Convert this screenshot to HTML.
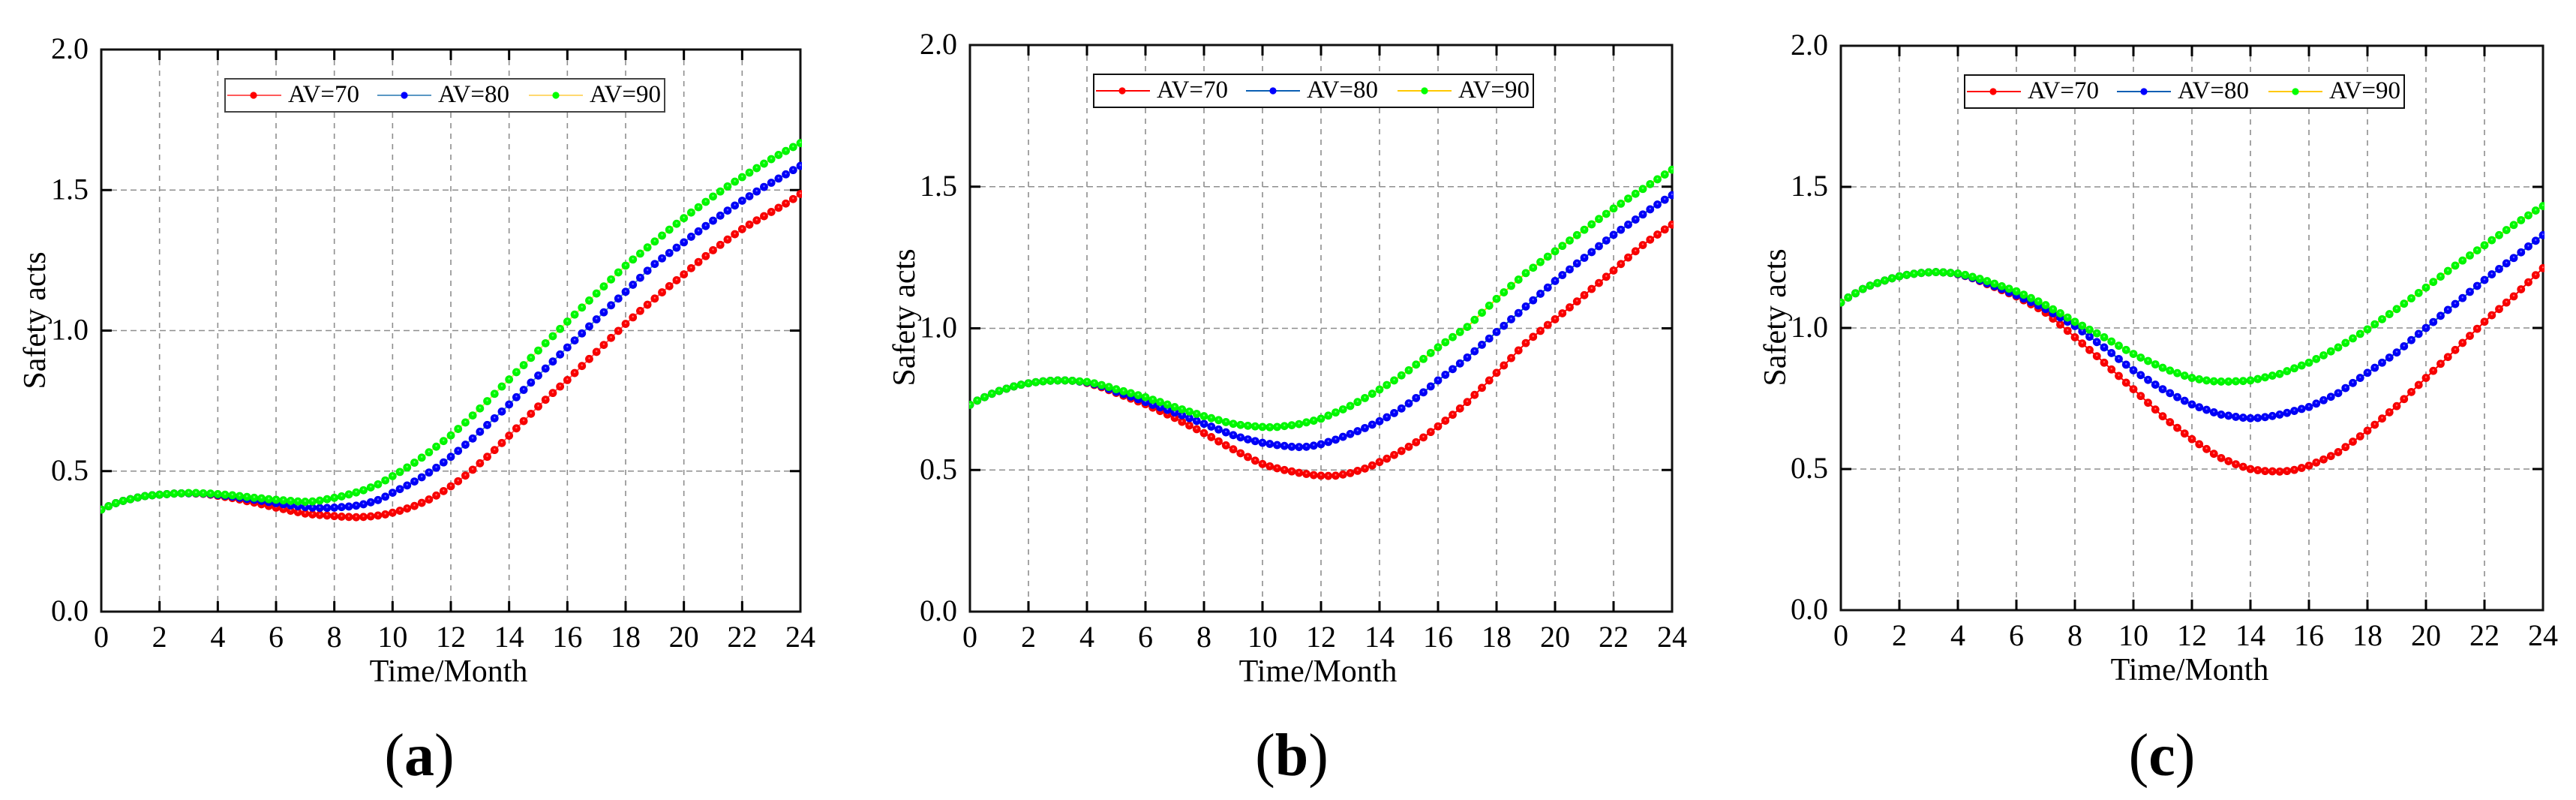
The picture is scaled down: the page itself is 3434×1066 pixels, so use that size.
<!DOCTYPE html>
<html lang="en">
<head>
<meta charset="utf-8">
<title>Safety acts over time for AV=70, 80 and 90</title>
<style>
html,body{margin:0;padding:0;background:#fff;}
svg{display:block;font-family:"Liberation Serif",serif;}
.tick-label{font-size:40px;fill:#000;}
.axis-title{font-size:42px;fill:#000;}
.legend-text{font-size:33px;fill:#000;}
.sub-label{font-size:80px;fill:#000;}
.sub-label .letter{font-weight:bold;}
</style>
</head>
<body>
<svg id="figure" xmlns="http://www.w3.org/2000/svg" width="3434" height="1066" viewBox="0 0 3434 1066">
  <defs>
    <radialGradient id="ball-red" cx="0.5" cy="0.5" r="0.5" fx="0.5" fy="0.38"><stop offset="0" stop-color="#ffb0b0"/><stop offset="0.3" stop-color="#ff0000"/><stop offset="1" stop-color="#f00000"/></radialGradient>
    <radialGradient id="ball-blue" cx="0.5" cy="0.5" r="0.5" fx="0.5" fy="0.38"><stop offset="0" stop-color="#b0b0ff"/><stop offset="0.3" stop-color="#0000ff"/><stop offset="1" stop-color="#0000ee"/></radialGradient>
    <radialGradient id="ball-green" cx="0.5" cy="0.5" r="0.5" fx="0.5" fy="0.38"><stop offset="0" stop-color="#b0ffb0"/><stop offset="0.3" stop-color="#00ff00"/><stop offset="1" stop-color="#00ee00"/></radialGradient>
  </defs>
  <rect x="0" y="0" width="3434" height="1066" fill="#fff"/>

  <!-- Panel a -->
  <g>
    <g id="plot-a"></g>
    <text class="axis-title" x="598" y="908" text-anchor="middle">Time/Month</text>
    <text class="axis-title" transform="translate(60,427) rotate(-90)" text-anchor="middle">Safety acts</text>
    <g transform="translate(135,66)">
      <rect x="165" y="39" width="586" height="44" fill="#fff" stroke="#444" stroke-width="2"/>
      <g>
        <line x1="168" y1="61" x2="240" y2="61" stroke="#ff5a5a" stroke-width="2"/>
        <circle cx="203" cy="61" r="4.6" fill="#f00"/>
        <text class="legend-text" x="249" y="70">AV=70</text>
      </g>
      <g>
        <line x1="368" y1="61" x2="440" y2="61" stroke="#5a98c4" stroke-width="2"/>
        <circle cx="404" cy="61" r="4.6" fill="#00f"/>
        <text class="legend-text" x="449" y="70">AV=80</text>
      </g>
      <g>
        <line x1="570" y1="61" x2="642" y2="61" stroke="#ffd970" stroke-width="2"/>
        <circle cx="606" cy="61" r="4.6" fill="#0f0"/>
        <text class="legend-text" x="651" y="70">AV=90</text>
      </g>
    </g>
    <text class="sub-label" x="559" y="1033" text-anchor="middle">(<tspan class="letter">a</tspan>)</text>
  </g>

  <!-- Panel b -->
  <g>
    <g id="plot-b"></g>
    <text class="axis-title" x="1757" y="908" text-anchor="middle">Time/Month</text>
    <text class="axis-title" transform="translate(1219,423) rotate(-90)" text-anchor="middle">Safety acts</text>
    <g transform="translate(1293,60)">
      <rect x="165" y="39" width="586" height="44" fill="#fff" stroke="#111" stroke-width="2"/>
      <g>
        <line x1="168" y1="61" x2="240" y2="61" stroke="#f00" stroke-width="2"/>
        <circle cx="203" cy="61" r="4.6" fill="#f00"/>
        <text class="legend-text" x="249" y="70">AV=70</text>
      </g>
      <g>
        <line x1="368" y1="61" x2="440" y2="61" stroke="#0a5fb4" stroke-width="2"/>
        <circle cx="404" cy="61" r="4.6" fill="#00f"/>
        <text class="legend-text" x="449" y="70">AV=80</text>
      </g>
      <g>
        <line x1="570" y1="61" x2="642" y2="61" stroke="#ffc800" stroke-width="2"/>
        <circle cx="606" cy="61" r="4.6" fill="#0f0"/>
        <text class="legend-text" x="651" y="70">AV=90</text>
      </g>
    </g>
    <text class="sub-label" x="1722" y="1033" text-anchor="middle">(<tspan class="letter">b</tspan>)</text>
  </g>

  <!-- Panel c -->
  <g>
    <g id="plot-c"></g>
    <text class="axis-title" x="2919" y="906" text-anchor="middle">Time/Month</text>
    <text class="axis-title" transform="translate(2380,423) rotate(-90)" text-anchor="middle">Safety acts</text>
    <g transform="translate(2454,61)">
      <rect x="165" y="39" width="586" height="44" fill="#fff" stroke="#111" stroke-width="2"/>
      <g>
        <line x1="168" y1="61" x2="240" y2="61" stroke="#f00" stroke-width="2"/>
        <circle cx="203" cy="61" r="4.6" fill="#f00"/>
        <text class="legend-text" x="249" y="70">AV=70</text>
      </g>
      <g>
        <line x1="368" y1="61" x2="440" y2="61" stroke="#0a5fb4" stroke-width="2"/>
        <circle cx="404" cy="61" r="4.6" fill="#00f"/>
        <text class="legend-text" x="449" y="70">AV=80</text>
      </g>
      <g>
        <line x1="570" y1="61" x2="642" y2="61" stroke="#ffc800" stroke-width="2"/>
        <circle cx="606" cy="61" r="4.6" fill="#0f0"/>
        <text class="legend-text" x="651" y="70">AV=90</text>
      </g>
    </g>
    <text class="sub-label" x="2882" y="1033" text-anchor="middle">(<tspan class="letter">c</tspan>)</text>
  </g>
</svg>

<script>
// Axis labels
const xTickLabels = ['0','2','4','6','8','10','12','14','16','18','20','22','24'];
const yTickLabels = ['0.0','0.5','1.0','1.5','2.0'];
const sampleStepMonths = 0.25;

// Panel (a): values every 0.25 month, month 0 to 24
const panelA_av70 = [
.363,.375,.386,.394,.400,.406,.411,.414,.416,.418,.420,.421,.421,.420,.419,.416,
.412,.408,.404,.399,.393,.388,.382,.376,.370,.365,.359,.354,.349,.346,.344,.342,
.340,.338,.337,.336,.337,.339,.342,.346,.352,.359,.367,.376,.387,.399,.413,.429,
.446,.464,.484,.505,.528,.551,.575,.600,.626,.652,.678,.704,.730,.754,.778,.801,
.824,.849,.874,.899,.924,.949,.974,.999,1.024,1.047,1.070,1.092,1.114,1.136,1.158,1.179,
1.200,1.222,1.244,1.265,1.286,1.305,1.324,1.343,1.361,1.377,1.392,1.407,1.422,1.437,1.452,1.468,
1.486];
const panelA_av80 = [
.363,.375,.386,.394,.400,.406,.411,.414,.416,.418,.420,.421,.421,.421,.420,.418,
.415,.412,.409,.405,.401,.398,.394,.390,.386,.382,.378,.375,.372,.370,.369,.369,
.370,.372,.374,.377,.382,.389,.397,.409,.423,.436,.449,.463,.478,.495,.512,.531,
.551,.572,.594,.616,.640,.664,.688,.712,.737,.763,.789,.815,.840,.865,.890,.915,
.940,.965,.990,1.015,1.040,1.065,1.090,1.114,1.138,1.163,1.188,1.213,1.237,1.257,1.276,1.295,
1.314,1.334,1.353,1.372,1.391,1.409,1.427,1.445,1.462,1.478,1.495,1.511,1.526,1.541,1.556,1.571,
1.586];
const panelA_av90 = [
.363,.375,.386,.394,.400,.406,.411,.414,.416,.418,.420,.421,.422,.422,.421,.420,
.418,.416,.414,.411,.408,.405,.403,.400,.398,.396,.394,.392,.391,.392,.395,.400,
.405,.410,.417,.424,.432,.442,.453,.467,.482,.497,.513,.530,.548,.567,.587,.607,
.627,.650,.673,.698,.723,.749,.775,.801,.826,.852,.877,.903,.929,.955,.980,1.006,
1.032,1.057,1.082,1.107,1.132,1.157,1.182,1.207,1.231,1.253,1.274,1.296,1.317,1.338,1.359,1.380,
1.400,1.420,1.439,1.458,1.477,1.495,1.513,1.530,1.546,1.562,1.578,1.594,1.610,1.625,1.639,1.653,
1.667];

// Panel (b)
const panelB_av70 = [
.730,.745,.757,.769,.779,.787,.795,.801,.806,.810,.813,.815,.816,.816,.815,.812,
.807,.800,.792,.782,.772,.762,.752,.742,.732,.720,.708,.696,.684,.670,.657,.644,
.630,.616,.601,.587,.573,.559,.546,.533,.521,.513,.506,.500,.495,.490,.486,.482,
.480,.479,.480,.484,.489,.497,.505,.516,.528,.540,.553,.567,.582,.598,.615,.634,
.654,.674,.695,.717,.740,.765,.790,.816,.843,.869,.895,.922,.948,.970,.991,1.012,
1.032,1.053,1.074,1.095,1.117,1.139,1.160,1.182,1.204,1.227,1.250,1.272,1.294,1.313,1.331,1.349,
1.366];
const panelB_av80 = [
.730,.745,.757,.769,.779,.787,.795,.801,.806,.810,.813,.815,.816,.816,.815,.812,
.809,.803,.796,.786,.776,.768,.759,.750,.740,.730,.721,.712,.703,.693,.683,.673,
.663,.653,.643,.633,.623,.615,.608,.602,.596,.592,.588,.585,.582,.581,.582,.586,
.591,.599,.607,.617,.627,.637,.648,.660,.672,.686,.701,.717,.735,.754,.774,.795,
.816,.836,.856,.876,.897,.919,.942,.964,.987,1.009,1.032,1.054,1.077,1.099,1.122,1.144,
1.167,1.188,1.208,1.229,1.249,1.269,1.290,1.310,1.330,1.348,1.366,1.384,1.402,1.420,1.437,1.454,
1.470];
const panelB_av90 = [
.730,.745,.757,.769,.779,.787,.795,.801,.806,.810,.813,.815,.816,.816,.815,.813,
.811,.806,.800,.793,.785,.778,.771,.764,.757,.748,.740,.731,.722,.714,.706,.698,
.690,.683,.676,.669,.663,.659,.656,.654,.652,.651,.652,.655,.658,.662,.668,.674,
.681,.692,.703,.714,.726,.740,.754,.769,.784,.800,.816,.834,.852,.872,.892,.913,
.933,.951,.969,.987,1.005,1.030,1.055,1.080,1.104,1.127,1.150,1.172,1.195,1.214,1.234,1.253,
1.272,1.291,1.310,1.329,1.348,1.367,1.386,1.404,1.423,1.440,1.458,1.475,1.492,1.509,1.526,1.543,
1.560];

// Panel (c)
const panelC_av70 = [
1.090,1.108,1.123,1.138,1.150,1.159,1.168,1.176,1.183,1.188,1.192,1.195,1.197,1.198,1.197,1.195,
1.190,1.184,1.176,1.166,1.155,1.145,1.134,1.123,1.112,1.098,1.084,1.070,1.054,1.033,1.012,.990,
.967,.945,.922,.900,.877,.853,.830,.806,.783,.759,.735,.711,.687,.666,.646,.626,
.606,.588,.571,.554,.539,.528,.517,.508,.500,.496,.493,.492,.491,.493,.497,.504,
.512,.523,.534,.546,.560,.578,.597,.616,.636,.657,.679,.701,.723,.748,.773,.798,
.823,.848,.873,.897,.922,.947,.972,.997,1.022,1.045,1.067,1.090,1.112,1.137,1.162,1.187,
1.212];
const panelC_av80 = [
1.090,1.108,1.123,1.138,1.150,1.159,1.168,1.176,1.183,1.188,1.192,1.195,1.197,1.198,1.197,1.195,
1.191,1.185,1.177,1.168,1.158,1.148,1.138,1.127,1.116,1.104,1.092,1.080,1.067,1.052,1.037,1.022,
1.007,.988,.969,.950,.931,.911,.890,.870,.850,.833,.816,.799,.783,.769,.755,.742,
.729,.719,.710,.701,.693,.689,.685,.682,.680,.681,.684,.688,.693,.699,.706,.713,
.720,.732,.744,.756,.769,.787,.805,.823,.841,.859,.877,.895,.913,.935,.957,.979,
1.000,1.021,1.043,1.064,1.085,1.106,1.128,1.149,1.170,1.190,1.209,1.229,1.248,1.268,1.289,1.309,
1.329];
const panelC_av90 = [
1.090,1.108,1.123,1.138,1.150,1.159,1.168,1.176,1.183,1.188,1.192,1.195,1.197,1.198,1.197,1.195,
1.193,1.188,1.181,1.174,1.166,1.157,1.148,1.139,1.130,1.118,1.106,1.094,1.081,1.066,1.052,1.037,
1.022,1.008,.994,.981,.967,.952,.937,.922,.908,.895,.883,.871,.859,.849,.840,.831,
.823,.818,.814,.811,.810,.810,.811,.812,.814,.819,.825,.831,.837,.847,.857,.867,
.877,.890,.903,.917,.931,.947,.963,.979,.995,1.013,1.031,1.049,1.067,1.086,1.105,1.124,
1.143,1.163,1.182,1.202,1.221,1.239,1.257,1.275,1.293,1.311,1.329,1.347,1.365,1.382,1.399,1.416,
1.432];

const NS = 'http://www.w3.org/2000/svg';
const X_MIN = 0, X_MAX = 24, Y_MIN = 0, Y_MAX = 2;

function create(tag, attrs, parent) {
  const el = document.createElementNS(NS, tag);
  for (const k in attrs) el.setAttribute(k, attrs[k]);
  parent.appendChild(el);
  return el;
}

function drawPanel(cfg) {
  const root = document.getElementById(cfg.id);
  const xAxis = v => cfg.left + (v - X_MIN) / (X_MAX - X_MIN) * (cfg.right - cfg.left);
  const yAxis = v => cfg.bottom - (v - Y_MIN) / (Y_MAX - Y_MIN) * (cfg.bottom - cfg.top);

  // Gridlines
  xTickLabels.forEach(label => {
    const v = parseFloat(label);
    if (v === X_MIN || v === X_MAX) return;
    const el = create('line', {x1: xAxis(v), x2: xAxis(v), y1: cfg.top, y2: cfg.bottom, stroke: '#8e8e8e', 'stroke-width': 1.6, 'stroke-dasharray': '7 7'}, root);
    
    
  });
  yTickLabels.forEach(label => {
    const v = parseFloat(label);
    if (v === Y_MIN || v === Y_MAX) return;
    const el = create('line', {x1: cfg.left, x2: cfg.right, y1: yAxis(v), y2: yAxis(v), stroke: '#8e8e8e', 'stroke-width': 1.6, 'stroke-dasharray': '8 5'}, root);
    
    
  });

  // Frame
  const frame = create('rect', {x: cfg.left, y: cfg.top, width: cfg.right - cfg.left, height: cfg.bottom - cfg.top, fill: 'none', stroke: '#111', 'stroke-width': 3}, root);
  
  

  // X ticks and labels
  xTickLabels.forEach(label => {
    const v = parseFloat(label);
    const x = xAxis(v);
    if (v !== X_MIN && v !== X_MAX) {
      const b = create('line', {x1: x, x2: x, y1: cfg.bottom, y2: cfg.bottom - 14, stroke: '#000', 'stroke-width': 3}, root);
      
      
      const t = create('line', {x1: x, x2: x, y1: cfg.top, y2: cfg.top + 14, stroke: '#000', 'stroke-width': 3}, root);
      
      
    }
    const txt = create('text', {x: x, y: cfg.bottom + 47, 'text-anchor': 'middle', class: 'tick-label'}, root);
    
    
    txt.textContent = label;
  });

  // Y ticks and labels
  yTickLabels.forEach(label => {
    const v = parseFloat(label);
    const y = yAxis(v);
    if (v !== Y_MIN && v !== Y_MAX) {
      const l = create('line', {x1: cfg.left, x2: cfg.left + 14, y1: y, y2: y, stroke: '#000', 'stroke-width': 3}, root);
      
      
      const r = create('line', {x1: cfg.right, x2: cfg.right - 14, y1: y, y2: y, stroke: '#000', 'stroke-width': 3}, root);
      
      
    }
    const txt = create('text', {x: cfg.left - 17, y: y + 12, 'text-anchor': 'end', class: 'tick-label'}, root);
    
    
    txt.textContent = label;
  });

  // Clip for markers
  const clip = create('clipPath', {id: 'clip-' + cfg.id}, root);
  create('rect', {x: cfg.left - 1, y: cfg.top - 8, width: cfg.right - cfg.left + 3, height: cfg.bottom - cfg.top + 16}, clip);

  // Series
  cfg.series.forEach(s => {
    const g = create('g', {'clip-path': 'url(#clip-' + cfg.id + ')'}, root);
    
    
    const pts = s.values.map((v, i) => xAxis(i * sampleStepMonths).toFixed(2) + ',' + yAxis(v).toFixed(2)).join(' ');
    const line = create('polyline', {points: pts, fill: 'none', stroke: s.line, 'stroke-width': 2}, g);
    
    
    s.values.forEach((v, i) => {
      const c = create('circle', {cx: xAxis(i * sampleStepMonths).toFixed(2), cy: yAxis(v).toFixed(2), r: 5.4, fill: 'url(#' + s.ball + ')'}, g);
      
      
    });
  });
}

drawPanel({id: 'plot-a', left: 135, right: 1067, top: 66, bottom: 815, series: [
  {name: 'series-av70', values: panelA_av70, line: '#ff5a5a', ball: 'ball-red'},
  {name: 'series-av80', values: panelA_av80, line: '#5a98c4', ball: 'ball-blue'},
  {name: 'series-av90', values: panelA_av90, line: '#ffd970', ball: 'ball-green'}
]});
drawPanel({id: 'plot-b', left: 1293, right: 2229, top: 60, bottom: 815, series: [
  {name: 'series-av70', values: panelB_av70, line: '#f00', ball: 'ball-red'},
  {name: 'series-av80', values: panelB_av80, line: '#0a5fb4', ball: 'ball-blue'},
  {name: 'series-av90', values: panelB_av90, line: '#ffc800', ball: 'ball-green'}
]});
drawPanel({id: 'plot-c', left: 2454, right: 3390, top: 61, bottom: 813, series: [
  {name: 'series-av70', values: panelC_av70, line: '#f00', ball: 'ball-red'},
  {name: 'series-av80', values: panelC_av80, line: '#0a5fb4', ball: 'ball-blue'},
  {name: 'series-av90', values: panelC_av90, line: '#ffc800', ball: 'ball-green'}
]});
</script>
</body>
</html>
